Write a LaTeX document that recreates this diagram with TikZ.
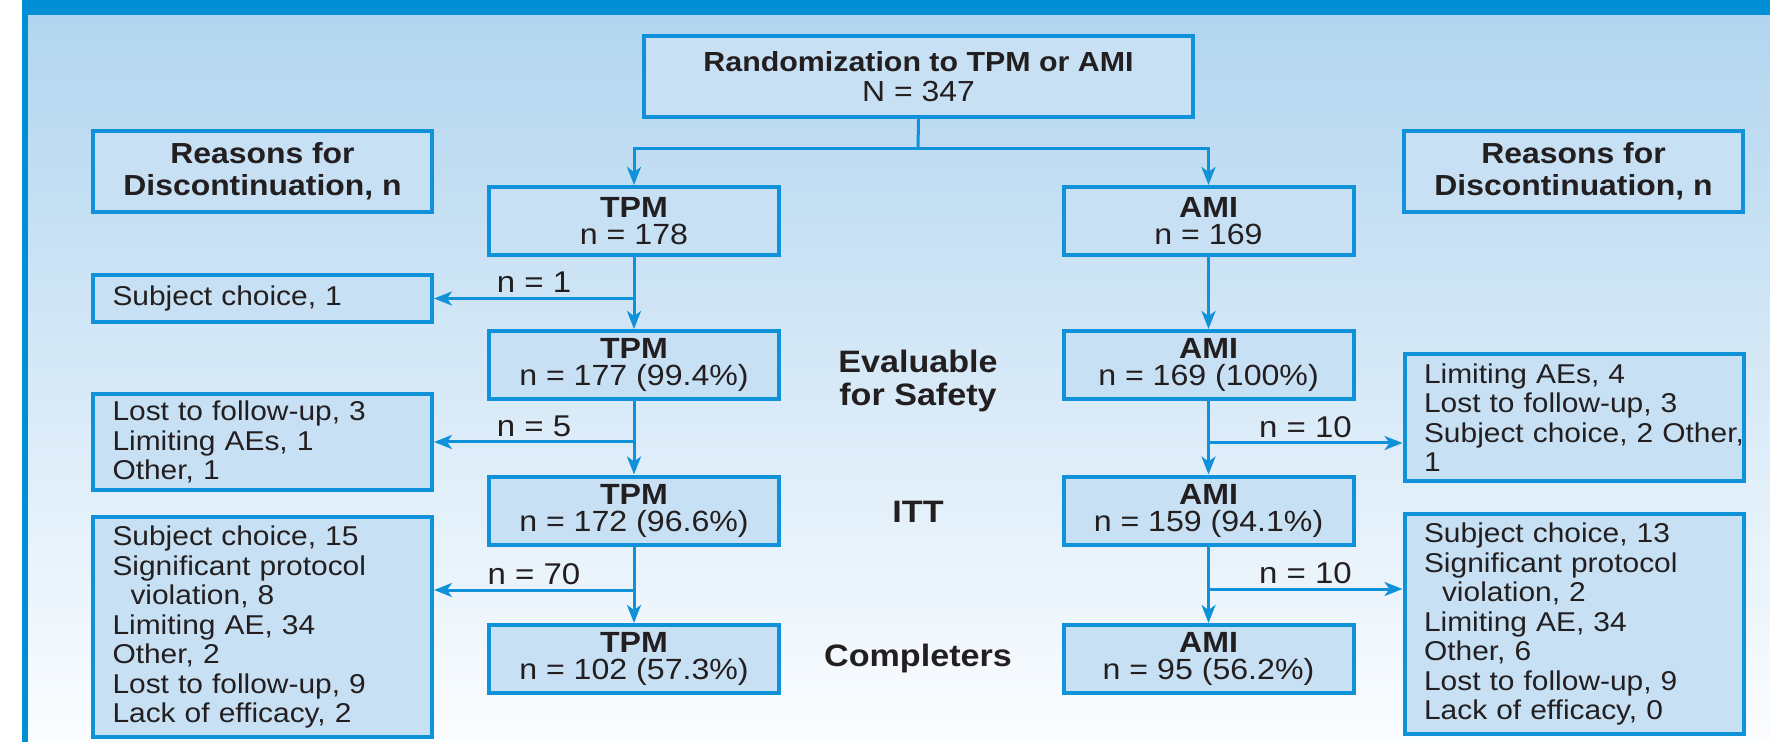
\documentclass[tikz,border=0pt]{standalone}
\usepackage{fontspec}
\setmainfont[FakeStretch=1.1]{Liberation Sans}
\usepackage{xcolor}
\usepackage{tikz}
\usetikzlibrary{arrows.meta, positioning, calc}
\definecolor{frameblue}{RGB}{0,142,212}
\definecolor{lineblue}{RGB}{16,146,218}
\definecolor{boxfill}{RGB}{200,224,243}
\definecolor{bgtop}{RGB}{178,213,239}
\definecolor{bgmid}{RGB}{213,231,247}
\definecolor{bgbottom}{RGB}{251,253,255}
\definecolor{textdark}{RGB}{35,31,32}

\begin{document}
\begin{tikzpicture}[
    x=0.5pt, y=-0.5pt,
    >={Stealth[length=9pt, width=7pt, inset=2.5pt]},
    link/.style={draw=lineblue, line width=1.5pt},
    flow/.style={link, ->},
    headbox/.style={draw=lineblue, line width=2pt, fill=boxfill, text=textdark, minimum width=274.5pt, minimum height=40.5pt, align=center, font=\fontsize{14.5}{15}\selectfont},
    whybox/.style={draw=lineblue, line width=2pt, fill=boxfill, text=textdark, minimum width=169.5pt, minimum height=40.5pt, align=center, font=\bfseries\fontsize{14.5}{16}\selectfont},
    armbox/.style={draw=lineblue, line width=2pt, fill=boxfill, text=textdark, minimum width=145pt, minimum height=34pt, inner sep=0pt, align=center, font=\fontsize{14.6}{13.5}\selectfont},
    reasonbox/.style={draw=lineblue, line width=2pt, fill=boxfill, text=textdark, text width=150pt, inner xsep=9.75pt, align=left, font=\fontsize{13.6}{14.75}\selectfont},
    count/.style={above, inner sep=2pt, text=textdark, font=\fontsize{15}{15}\selectfont},
    stage/.style={align=center, text=textdark, font=\bfseries\fontsize{15.5}{16.5}\selectfont},
]
    \useasboundingbox (0,0) rectangle (1770,742);
    % frame and background
    \fill[white] (0,0) rectangle (1770,742);
    \shade[top color=bgtop, middle color=bgmid, bottom color=bgbottom] (28,14) rectangle (1770,742);
    \fill[frameblue] (22,0) rectangle (1770,15);
    \fill[frameblue] (22,0) rectangle (28,742);

    \node[headbox] (rand) at (918.5,76.5) {{\bfseries\fontsize{13.8}{15}\selectfont Randomization to TPM or AMI}\\N = 347};
    \node[whybox] (whyl) at (262.5,171.5) {Reasons for\\Discontinuation, n};
    \node[whybox] (whyr) at (1573.5,171.5) {Reasons for\\Discontinuation, n};

    % TPM arm
    \node[armbox] (tpm1) at (634,221) {\textbf{TPM}\\n = 178};
    \node[armbox] (tpm2) at (634,365) {\textbf{TPM}\\n = 177 (99.4\%)};
    \node[armbox] (tpm3) at (634,510.5) {\textbf{TPM}\\n = 172 (96.6\%)};
    \node[armbox] (tpm4) at (634,659) {\textbf{TPM}\\n = 102 (57.3\%)};

    % AMI arm
    \node[armbox] (ami1) at (1208.5,221) {\textbf{AMI}\\n = 169};
    \node[armbox] (ami2) at (1208.5,365) {\textbf{AMI}\\n = 169 (100\%)};
    \node[armbox] (ami3) at (1208.5,510.5) {\textbf{AMI}\\n = 159 (94.1\%)};
    \node[armbox] (ami4) at (1208.5,659) {\textbf{AMI}\\n = 95 (56.2\%)};

    \node[stage] (safety) at (918,381) {Evaluable\\for Safety};
    \node[stage] (itt) at (918,512) {ITT};
    \node[stage] (compl) at (918,658) {Completers};

    % discontinuations
    \node[reasonbox, minimum height=23.5pt] (offl1) at (262.5,298.5) {Subject choice, 1};
    \node[reasonbox, minimum height=48pt] (offl2) at (262.5,442) {Lost to follow-up, 3\\Limiting AEs, 1\\Other, 1};
    \node[reasonbox, minimum height=110pt] (offl3) at (262.5,627) {Subject choice, 15\\Significant protocol\\\hspace*{9pt}violation, 8\\Limiting AE, 34\\Other, 2\\Lost to follow-up, 9\\Lack of efficacy, 2};
    \node[reasonbox, minimum height=63pt] (offr2) at (1574,417.5) {Limiting AEs, 4\\Lost to follow-up, 3\\Subject~choice,~2~Other,\\1};
    \node[reasonbox, minimum height=110pt] (offr3) at (1574,624) {Subject choice, 13\\Significant protocol\\\hspace*{9pt}violation, 2\\Limiting AE, 34\\Other, 6\\Lost to follow-up, 9\\Lack of efficacy, 0};

    \coordinate (split) at (918,149);
    \draw[link] (rand.south) -- (split);
    \draw[flow] (split) -| (tpm1.north);
    \draw[flow] (split) -| (ami1.north);

    \draw[flow] (tpm1) -- (tpm2);
    \draw[flow] (tpm2) -- (tpm3);
    \draw[flow] (tpm3) -- (tpm4);
    \draw[flow] (ami1) -- (ami2);
    \draw[flow] (ami2) -- (ami3);
    \draw[flow] (ami3) -- (ami4);

    \coordinate (dropl3) at (634,590);
    \coordinate (dropr2) at (1208.5,443);
    \coordinate (dropr3) at (1208.5,589);
    \draw[flow] (tpm1.south |- offl1.east) -- node[count] {n = 1} (offl1.east);
    \draw[flow] (tpm2.south |- offl2.east) -- node[count] {n = 5} (offl2.east);
    \draw[flow] (dropl3) -- node[count] {n = 70} (dropl3 -| offl3.east);
    \draw[flow] (dropr2) -- node[count] {n = 10} (dropr2 -| offr2.west);
    \draw[flow] (dropr3) -- node[count] {n = 10} (dropr3 -| offr3.west);
\end{tikzpicture}
\end{document}
